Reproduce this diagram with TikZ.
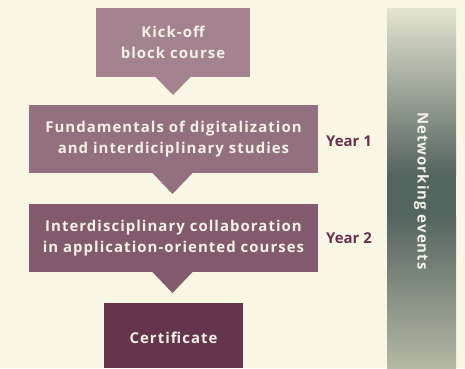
\documentclass[tikz,border=0pt]{standalone}
\usepackage{fontspec}
\setmainfont{Open Sans}[LetterSpace=7]
\begin{document}
\definecolor{bg}{HTML}{F9F7E3}
\definecolor{cA}{HTML}{A38390}
\definecolor{cB}{HTML}{93707F}
\definecolor{cC}{HTML}{83596D}
\definecolor{cD}{HTML}{65344D}
\definecolor{yr}{HTML}{6A3150}
\definecolor{gl}{HTML}{E4E4D2}
\definecolor{gd}{HTML}{54645E}
\definecolor{gb}{HTML}{B4B8A6}
\definecolor{tx}{HTML}{F4F2E6}
\begin{tikzpicture}[x=1bp,y=-1bp,
  stepbox/.style={inner sep=0pt, align=center, text=tx,
    font=\fontsize{15}{21.5}\selectfont\bfseries},
  pointer/.style={fill=#1, draw=none},
  yearlbl/.style={text=yr, inner sep=0pt, font=\fontsize{15}{16}\selectfont\bfseries\addfontfeatures{LetterSpace=0}, anchor=west}]
\fill[bg] (0,0) rectangle (465,368);
\useasboundingbox (0,0) rectangle (465,368);
% sidebar
\shade[top color=gl, bottom color=gd] (387,8) rectangle (456,175);
\fill[gd] (387,174.5) rectangle (456,215.5);
\shade[top color=gd, bottom color=gb] (387,215) rectangle (456,368);
\node[rotate=-90, text=tx, font=\fontsize{15}{16}\selectfont\bfseries] (net) at (421.5,191) {Networking events};
% boxes
\fill[cA] (96,8) rectangle (250,77);
\node[stepbox] (b1) at (173,42.5) {Kick-off\\block course};
\fill[pointer=cA] (155,76.5) -- (191,76.5) -- (173,95) -- cycle;
\fill[cB] (29,105) rectangle (318,173);
\node[stepbox] (b2) at (173.5,139) {Fundamentals of digitalization\\and interdiciplinary studies};
\fill[pointer=cB] (152,172.5) -- (193,172.5) -- (172.5,194) -- cycle;
\node[yearlbl] (y1) at (326,141) {Year 1};
\fill[cC] (29,204) rectangle (318,272);
\node[stepbox] (b3) at (173.5,238) {Interdisciplinary collaboration\\in application-oriented courses};
\fill[pointer=cC] (152,271.5) -- (193,271.5) -- (172.5,293) -- cycle;
\node[yearlbl] (y2) at (326,238) {Year 2};
\fill[cD] (104,303) rectangle (243,368);
\node[stepbox] (b4) at (173.5,338) {Certificate};
\end{tikzpicture}
\end{document}
